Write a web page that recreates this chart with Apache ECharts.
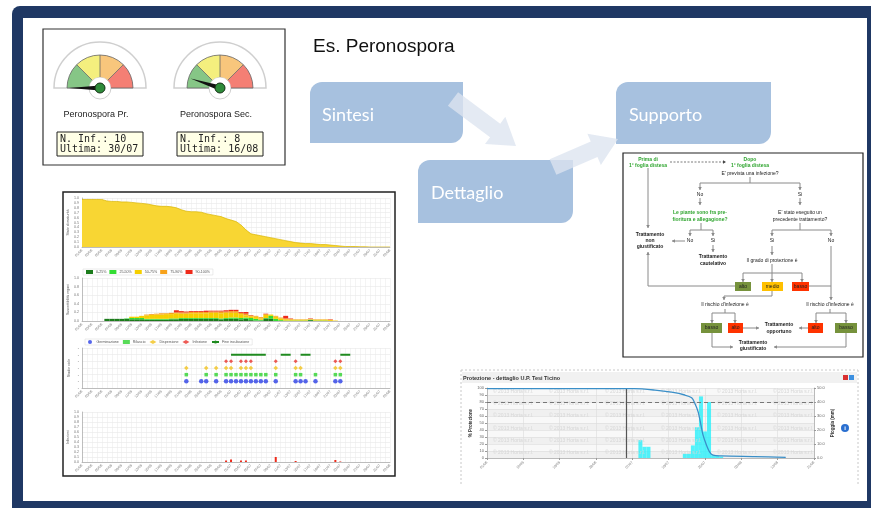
<!DOCTYPE html>
<html><head><meta charset="utf-8">
<script src="https://cdn.jsdelivr.net/npm/echarts@6/dist/echarts.min.js"></script>
<style>html,body{margin:0;padding:0;background:#fff}#c{width:871px;height:508px}</style>
</head><body><div id="c"></div>
<script>
// ================= DATA =================
const gaugeNames = ['Peronospora Pr.', 'Peronospora Sec.'];
const gaugeValues = [0, 10];
const gaugeInfections = [10, 8];
const gaugeLastDates = ['30/07', '16/08'];

const dayLabels = [
 '01/06','02/06','03/06','04/06','05/06','06/06','07/06','08/06','09/06','10/06',
 '11/06','12/06','13/06','14/06','15/06','16/06','17/06','18/06','19/06','20/06',
 '21/06','22/06','23/06','24/06','25/06','26/06','27/06','28/06','29/06','30/06',
 '01/07','02/07','03/07','04/07','05/07','06/07','07/07','08/07','09/07','10/07',
 '11/07','12/07','13/07','14/07','15/07','16/07','17/07','18/07','19/07','20/07',
 '21/07','22/07','23/07','24/07','25/07','26/07','27/07','28/07','29/07','30/07',
 '31/07','01/08','02/08'];

const maturity = [
 .97,.97,.97,.97,.97,.94,.93,.93,.92,.92,
 .91,.90,.89,.88,.86,.84,.83,.83,.82,.80,
 .76,.73,.72,.72,.71,.68,.66,.64,.62,.58,
 .55,.52,.45,.35,.27,.25,.23,.21,.19,.17,
 .15,.13,.11,.09,.08,.07,.07,.06,.05,.05,
 .04,.03,.02,.01,.01,.01,.005,.005,0,0,
 0,0,0];

const stackNames = ['0-25%','25-50%','50-75%','75-90%','90-100%'];
const stack0_25 = [
 0,0,0,0,0,.05,.05,.05,.05,.05,
 .04,.04,.04,.03,.03,.03,.03,.03,.04,.04,
 .05,.05,.05,.05,.05,.05,.05,.05,.04,.05,
 .05,.05,.04,.05,.02,.01,.01,.06,.05,0,
 0,0,0,0,0,0,.02,0,0,0,
 0,0,0,0,0,0,0,0,0,0,
 0,0,0];
const stack25_50 = [
 0,0,0,0,0,0,0,0,0,.01,
 .03,.03,.03,.02,.02,.02,.02,.02,.02,.02,
 .02,.02,.02,.02,.02,.02,.02,.02,.02,.02,
 .03,.03,.03,.03,.05,.04,.02,.01,.07,.05,
 .02,.01,.01,.01,.01,.01,.01,.01,.01,.01,
 0,0,0,0,0,0,0,0,0,0,
 0,0,0];
const stack50_75 = [
 0,0,0,0,0,0,0,0,0,0,
 .03,.03,.05,.08,.09,.10,.10,.11,.10,.12,
 .10,.10,.11,.11,.11,.11,.12,.12,.12,.12,
 .11,.11,.09,.05,.04,.05,.03,.07,.03,.05,
 .04,.03,.02,.02,.02,.02,.01,.02,.02,.02,
 .02,.01,0,0,0,0,0,0,0,0,
 0,0,0];
const stack75_90 = [
 0,0,0,0,0,0,0,0,0,0,
 0,0,0,.02,.02,.02,.03,.02,.03,.02,
 .03,.03,.03,.03,.03,.03,.03,.03,.04,.03,
 .04,.04,.03,.04,.02,.02,.03,.02,0,.02,
 .02,.02,.02,.01,.01,.01,.01,.01,.01,.01,
 .01,0,0,0,0,0,0,0,0,0,
 0,0,0];
const stack90_100 = [
 0,0,0,0,0,0,0,0,0,0,
 0,0,0,0,0,0,0,0,0,.05,
 .03,.02,.02,.02,.02,.03,.02,.02,.02,.03,
 .03,.03,.02,.04,.01,0,0,.01,0,0,
 0,.06,.01,0,0,0,.01,0,0,0,
 .01,0,0,0,0,0,0,0,0,0,
 0,0,0];

const phaseNames = ['Germinazione','Rilascio','Dispersione','Infezione','Fine incubazione'];
const germinazioneIdx = [21,24,25,27,29,30,31,32,33,34,35,36,37,39,43,44,45,47,51,52];
const rilascioIdx = [21,25,27,29,30,31,32,33,34,35,36,37,39,43,44,47,51,52];
const dispersioneIdx = [21,25,27,29,30,32,33,34,39,43,44,51,52];
const infezioneIdx = [29,30,32,33,34,39,43,51,52];
const fineIncubazioneRanges = [[30,33],[34,37],[40,42],[44,46],[52,54]];
const infezioniIdx = [29,30,32,33,39,43,51,52];
const infezioniVal = [0.03,0.05,0.03,0.03,0.10,0.02,0.04,0.01];

const protDays   = [0,36.5,41.6,45.7,49,50.7,51.5,52.3,53,53.5,54.4,55.2,56,58,66.3,74];
const protValues = [99,99,97,94,90,86,78,66,47,33,18,8,4,3,2,1];
const rainDays   = [38,39,40,49,50,51,52,53,54,55,56,57,58];
const rainValues = [12.7,8,8,3,3,9,22,44,19,40,2,1.5,1];
const protTickLabels = ['01/06','10/06','19/06','28/06','07/07','16/07','25/07','03/08','12/08','21/08'];
const protThreshold = 80;
const todayDay = 34.5;

// ================= HELPERS =================
const FONT = '"Liberation Sans", Arial, sans-serif';
const G = [];
function zz(o, d){ return (o && o.z != null) ? o.z : d; }
function T(x, y, s, o) {
  o = o || {};
  G.push({type:'text', x:x, y:y, z:zz(o,30), style:{text:s, fill:o.color||'#222',
    font:(o.bold?'bold ':'')+(o.size||5)+'px '+(o.family||FONT),
    align:o.align||'center', textAlign:o.align||'center',
    verticalAlign:'middle', textVerticalAlign:'middle', lineHeight:o.lh||6}});
}
function R(x, y, w, h, o) {
  o = o || {};
  G.push({type:'rect', z:zz(o,20), shape:{x:x,y:y,width:w,height:h,r:o.r||0},
    style:{fill:o.fill||'none', stroke:o.stroke||null, lineWidth:o.lw||1, lineDash:o.dash||null, opacity:o.op==null?1:o.op}});
}
function L(points, o) {
  o = o || {};
  const col = o.color || '#8a8a8a';
  G.push({type:'polyline', z:zz(o,25), shape:{points:points}, style:{stroke:col, lineWidth:o.lw||1, fill:null, lineDash:o.dash||null}});
  if (o.arrow !== false) {
    const n = points.length, p2 = points[n-1], p1 = points[n-2];
    let dx = p2[0]-p1[0], dy = p2[1]-p1[1]; const len = Math.hypot(dx,dy)||1; dx/=len; dy/=len;
    const hl = 3, hw = 1.8;
    G.push({type:'polygon', z:zz(o,25), shape:{points:[[p2[0],p2[1]],[p2[0]-dx*hl-dy*hw,p2[1]-dy*hl+dx*hw],[p2[0]-dx*hl+dy*hw,p2[1]-dy*hl-dx*hw]]}, style:{fill:col}});
  }
}
function bigArrow(x1,y1,x2,y2,sw,hw,hl) {
  let dx=x2-x1, dy=y2-y1; const len=Math.hypot(dx,dy); dx/=len; dy/=len;
  const nx=-dy, ny=dx; const bx=x2-dx*hl, by=y2-dy*hl;
  G.push({type:'polygon', z:12, shape:{points:[
    [x1+nx*sw/2,y1+ny*sw/2],[bx+nx*sw/2,by+ny*sw/2],[bx+nx*hw/2,by+ny*hw/2],[x2,y2],
    [bx-nx*hw/2,by-ny*hw/2],[bx-nx*sw/2,by-ny*sw/2],[x1-nx*sw/2,y1-ny*sw/2]]},
    style:{fill:'#dce4ef', opacity:0.78}});
}

// ---- frame ----
R(12, 6, 880, 510, {fill:'#1f3864', r:8, z:-2});
R(23, 18, 844, 483, {fill:'#ffffff', z:-1});

// ---- gauge panel ----
R(43, 29, 242, 136, {fill:'#fff', stroke:'#333', lw:1.2, z:0});
const gaugeCx = [100, 220], gaugeCy = 88;
gaugeCx.forEach(function(cx, i){
  G.push({type:'sector', z:1, shape:{cx:cx, cy:gaugeCy, r:46, r0:0, startAngle:Math.PI, endAngle:2*Math.PI},
    style:{fill:'#fff', stroke:'#cfcfcf', lineWidth:1.5}});
  G.push({type:'circle', z:2, shape:{cx:cx, cy:gaugeCy, r:11}, style:{fill:'#fff', stroke:'#d0d0d0', lineWidth:1}});
  G.push({type:'arc', z:8, shape:{cx:cx, cy:gaugeCy, r:33, startAngle:Math.PI, endAngle:2*Math.PI}, style:{stroke:'#666', lineWidth:0.8, fill:null}});
  T(cx-4, 115, gaugeNames[i], {size:9, color:'#222'});
  R(cx-43, 132, 86, 24, {fill:'#ffffe6', stroke:'#222', lw:1, z:3});
  T(cx-40, 139, 'N. Inf.: ' + gaugeInfections[i], {size:10, align:'left', family:'"DejaVu Sans Mono", monospace', lh:10});
  T(cx-40, 149, 'Ultima: ' + gaugeLastDates[i], {size:10, align:'left', family:'"DejaVu Sans Mono", monospace', lh:10});
});

// ---- title & process boxes ----
T(313, 47, 'Es. Peronospora', {size:19, align:'left', color:'#111', z:40});
R(310, 82, 153, 61, {fill:'#a7c1df', r:[12,0,12,0], z:10});
R(418, 160, 155, 63, {fill:'#a7c1df', r:[12,0,12,0], z:10});
R(616, 82, 155, 62, {fill:'#a7c1df', r:[12,0,12,0], z:10});
bigArrow(453, 99, 516, 146, 17, 34, 26);
bigArrow(553, 167, 618, 139, 17, 34, 26);
T(322, 115, 'Sintesi', {size:18, align:'left', color:'#fff', family:'Lato, "Open Sans", sans-serif', z:40});
T(431, 193, 'Dettaglio', {size:18, align:'left', color:'#fff', family:'Lato, "Open Sans", sans-serif', z:40});
T(629, 115, 'Supporto', {size:18, align:'left', color:'#fff', family:'Lato, "Open Sans", sans-serif', z:40});

// ---- flowchart ----
R(623, 153, 240, 204, {fill:'#fff', stroke:'#222', lw:1.2, z:15});
const GR = '#2fa52f';
T(648, 163, 'Prima di\n1\u00b0 foglia distesa', {bold:true, color:GR});
L([[670,162],[726,162]], {dash:[2,1.5], color:'#444', lw:0.7});
T(750, 163, 'Dopo\n1\u00b0 foglia distesa', {bold:true, color:GR});
T(750, 174, "E' prevista una infezione?");
L([[750,177],[750,183]], {arrow:false});
L([[700,183],[800,183]], {arrow:false});
L([[700,183],[700,190]]); L([[800,183],[800,190]]);
T(700, 195, 'No'); T(800, 195, 'Si');
L([[700,198],[700,205]]); L([[800,198],[800,205]]);
T(700, 216, 'Le piante sono fra pre-\nfioritura e allegagione?', {bold:true, color:GR, lh:7});
T(800, 216, "E' stato eseguito un\nprecedente trattamento?", {lh:7});
L([[701,223],[701,230]], {arrow:false});
L([[690,230],[713,230]], {arrow:false});
L([[690,230],[690,236]]); L([[713,230],[713,236]]);
T(690, 241, 'No'); T(713, 241, 'Si');
L([[685,241],[672,241]]);
L([[713,245],[713,252]]);
T(713, 260, 'Trattamento\ncautelativo', {bold:true, lh:7});
L([[648,168],[648,228]]);
T(650, 241, 'Trattamento\nnon\ngiustificato', {bold:true, lh:6});
L([[800,223],[800,230]], {arrow:false});
L([[772,230],[831,230]], {arrow:false});
L([[772,230],[772,236]]); L([[831,230],[831,236]]);
T(772, 241, 'Si'); T(831, 241, 'No');
L([[772,246],[772,255]]);
T(772, 261, 'Il grado di protezione \u00e8');
L([[772,264],[772,273]], {arrow:false});
L([[743,273],[802,273]], {arrow:false});
L([[743,273],[743,282]]); L([[772,273],[772,282]]); L([[802,273],[802,282]]);
R(735, 282, 16, 9, {fill:'#76923c', z:22}); T(743, 286.5, 'alto', {z:32});
R(762, 282, 21, 9, {fill:'#ffc000', z:22}); T(772.5, 286.5, 'medio', {z:32});
R(792, 282, 17, 9, {fill:'#ff3300', z:22}); T(800.5, 286.5, 'basso', {z:32});
L([[735,286],[648,286],[648,252]]);
L([[809,286],[831,286]], {arrow:false});
L([[831,246],[831,300]]);
L([[772,291],[772,296],[724,296],[724,300]]);
T(725, 305, "Il rischio d'infezione \u00e8");
T(830, 305, "Il rischio d'infezione \u00e8");
L([[725,309],[725,313]], {arrow:false});
L([[712,313],[735,313]], {arrow:false});
L([[712,313],[712,323]]); L([[735,313],[735,323]]);
L([[830,309],[830,313]], {arrow:false});
L([[816,313],[846,313]], {arrow:false});
L([[816,313],[816,323]]); L([[846,313],[846,323]]);
R(701, 323, 21, 10, {fill:'#76923c', z:22}); T(711.5, 328, 'basso', {z:32});
R(728, 323, 15, 10, {fill:'#ff3300', z:22}); T(735.5, 328, 'alto', {z:32});
R(808, 323, 15, 10, {fill:'#ff3300', z:22}); T(815.5, 328, 'alto', {z:32});
R(835, 323, 22, 10, {fill:'#76923c', z:22}); T(846, 328, 'basso', {z:32});
T(779, 328, 'Trattamento\nopportuno', {bold:true, lh:7});
L([[743,328],[759,328]]);
L([[808,328],[799,328]]);
T(753, 346, 'Trattamento\ngiustificato', {bold:true, lh:6});
L([[712,333],[712,347],[733,347]]);
L([[846,333],[846,347],[774,347]]);

// ---- left detail panel ----
R(63, 192, 332, 284, {fill:'#fff', stroke:'#222', lw:1.5, z:0});

// ---- right detail panel ----
L([[461,370],[858,370]], {arrow:false, dash:[2,2], color:'#c8c8c8', z:2});
L([[461,370],[461,484]], {arrow:false, dash:[2,2], color:'#c8c8c8', z:2});
L([[858,370],[858,484]], {arrow:false, dash:[2,2], color:'#c8c8c8', z:2});
R(462, 372, 395, 11, {fill:'#f1f1f1', z:2});
T(463, 378, 'Protezione - dettaglio U.P. Tesi Ticino', {size:5.5, bold:true, align:'left', color:'#333'});
R(843, 375, 5, 5, {fill:'#d93030', z:5});
R(849, 375, 5, 5, {fill:'#3b8fe0', z:5});
G.push({type:'circle', z:5, shape:{cx:845, cy:428, r:4}, style:{fill:'#2a6fd0'}});
T(845, 428, 'i', {size:6, bold:true, color:'#fff'});
[392,404,416,429,441,453].forEach(function(y){
  [493,549,605,661,717,773].forEach(function(x){
    T(x, y, '\u00a9 2013 Horta s.r.l.', {size:5, color:'#d6d6d6', align:'left', z:3});
  });
});

// ================= CHART =================
const chart = echarts.init(document.getElementById('c'), null, {renderer:'canvas'});
const tiny = 3.6;
function leftX(i) {
  return {type:'category', gridIndex:i, data:dayLabels, boundaryGap:false,
    axisLine:{lineStyle:{color:'#999', width:0.6}}, axisTick:{show:false},
    axisLabel:{rotate:45, fontSize:tiny, color:'#777', interval:1, margin:3, fontFamily:FONT},
    splitLine:{show:true, interval:0, lineStyle:{color:'#e8e8e8', width:0.5}}};
}
function leftY(i, max, step, name, showLabels) {
  return {type:'value', gridIndex:i, min:0, max:max, interval:step,
    name:name, nameLocation:'middle', nameGap:11, nameRotate:90,
    nameTextStyle:{fontSize:tiny, color:'#555', fontFamily:FONT},
    axisLine:{show:true, lineStyle:{color:'#999', width:0.6}}, axisTick:{show:false},
    axisLabel:{show:true, fontSize:tiny, color:'#777', margin:3, fontFamily:FONT,
      formatter: showLabels ? function(v){return v.toFixed(1);} : function(){return '-';}},
    splitLine:{show:true, lineStyle:{color:'#e2e2e2', width:0.5}}};
}
const stackColors = ['#1c7c1c','#33dd33','#f5cf00','#f7a21b','#ee2a1a'];
const stackData = [stack0_25, stack25_50, stack50_75, stack75_90, stack90_100];

const series = [];
series.push({type:'line', xAxisIndex:0, yAxisIndex:0, data:maturity, symbol:'none',
  lineStyle:{color:'#d9b400', width:0.7}, areaStyle:{color:'#f8d633', opacity:1}});
stackData.forEach(function(d, k){
  series.push({type:'bar', name:stackNames[k], xAxisIndex:1, yAxisIndex:1, stack:'s', data:d,
    barCategoryGap:'0%', itemStyle:{color:stackColors[k]}});
});
function lev(arr, l){ return arr.map(function(i){ return [i, l]; }); }
series.push({type:'scatter', name:phaseNames[0], xAxisIndex:2, yAxisIndex:2, symbol:'circle', symbolSize:4.5,
  itemStyle:{color:'#2b3fe6'}, data:lev(germinazioneIdx,1)});
series.push({type:'scatter', name:phaseNames[1], xAxisIndex:2, yAxisIndex:2, symbol:'rect', symbolSize:3.5,
  itemStyle:{color:'#2ed22e'}, data:lev(rilascioIdx,2)});
series.push({type:'scatter', name:phaseNames[2], xAxisIndex:2, yAxisIndex:2, symbol:'diamond', symbolSize:4.5,
  itemStyle:{color:'#f1c21b'}, data:lev(dispersioneIdx,3)});
series.push({type:'scatter', name:phaseNames[3], xAxisIndex:2, yAxisIndex:2, symbol:'diamond', symbolSize:4,
  itemStyle:{color:'#e8322a'}, data:lev(infezioneIdx,4)});
series.push({type:'line', name:phaseNames[4], xAxisIndex:2, yAxisIndex:2, symbol:'none', connectNulls:false,
  lineStyle:{color:'#1f8a1f', width:2}, itemStyle:{color:'#1f8a1f'},
  data:dayLabels.map(function(d, i){
    return fineIncubazioneRanges.some(function(r){ return i>=r[0] && i<=r[1]; }) ? 5 : null; })});
series.push({type:'bar', name:'Infezioni', xAxisIndex:3, yAxisIndex:3, barWidth:2,
  itemStyle:{color:'#ee2a1a'}, data:infezioniIdx.map(function(i, k){ return [i, infezioniVal[k]]; })});
series.push({type:'bar', name:'Pioggia', xAxisIndex:4, yAxisIndex:5, barWidth:4,
  itemStyle:{color:'rgba(40,240,250,0.8)'}, data:rainDays.map(function(d,k){ return [d, rainValues[k]]; })});
series.push({type:'line', name:'Protezione', xAxisIndex:4, yAxisIndex:4, symbol:'none', smooth:0.3, z:5,
  lineStyle:{color:'#3a8fc8', width:1.3},
  data:protDays.map(function(d,k){ return [d, protValues[k]]; }),
  markLine:{silent:true, symbol:'none', label:{show:false},
    data:[{yAxis:protThreshold, lineStyle:{color:'#777', type:[4,3], width:1}},
          {xAxis:todayDay, lineStyle:{color:'#555', type:'solid', width:1.2}}]}});
gaugeCx.forEach(function(cx, i){
  series.push({type:'gauge', center:[cx, gaugeCy], radius:33, startAngle:180, endAngle:0, min:0, max:100, splitNumber:4, z:5,
    axisLine:{lineStyle:{width:22, color:[[0.25,'#86c686'],[0.5,'#f4ef7e'],[0.75,'#f8c67c'],[1,'#f47f74']]}},
    splitLine:{length:22, distance:-22, lineStyle:{color:'#666', width:0.8}},
    axisTick:{show:false}, axisLabel:{show:false},
    pointer:{length:31, width:2.5, itemStyle:{color:'#111'}},
    anchor:{show:true, size:10, showAbove:true, itemStyle:{color:'#2e8b3a', borderColor:'#163016', borderWidth:1}},
    title:{show:false}, detail:{show:false}, data:[{value:gaugeValues[i]}]});
});

const option = {
  animation:false,
  backgroundColor:'#fff',
  textStyle:{fontFamily:FONT},
  graphic:{elements:G},
  legend:[
    {data:stackNames, left:83, top:269, itemWidth:7, itemHeight:4, itemGap:3, padding:[1,3],
      borderColor:'#ddd', borderWidth:0.6, textStyle:{fontSize:tiny, color:'#555', padding:[0,0,0,-2]}, icon:'rect'},
    {data:phaseNames, left:85, top:339, itemWidth:7, itemHeight:4, itemGap:4, padding:[1,3],
      borderColor:'#ddd', borderWidth:0.6, textStyle:{fontSize:tiny, color:'#555', padding:[0,0,0,-2]}}
  ],
  grid:[
    {left:82, top:198, width:308, height:49, show:true, backgroundColor:'#fff', borderWidth:0},
    {left:82, top:278, width:308, height:43, show:true, backgroundColor:'#fff', borderWidth:0},
    {left:82, top:348, width:308, height:40, show:true, backgroundColor:'#fff', borderWidth:0},
    {left:82, top:412, width:308, height:50, show:true, backgroundColor:'#fff', borderWidth:0},
    {left:487, top:388, width:327, height:70}
  ],
  xAxis:[leftX(0), leftX(1), leftX(2), leftX(3),
    {type:'value', gridIndex:4, min:0, max:81, interval:9,
      axisLine:{lineStyle:{color:'#999', width:0.6}}, axisTick:{show:true, length:2},
      axisLabel:{rotate:45, fontSize:tiny, color:'#777', margin:4,
        formatter:function(v){ return protTickLabels[Math.round(v/9)] || ''; }},
      splitLine:{show:true, lineStyle:{color:'#dcdcdc', width:0.6}}}],
  yAxis:[leftY(0,1,0.1,'Stato di maturit\u00e0',true), leftY(1,1,0.2,'Suscettibilit\u00e0 organi',true),
    leftY(2,6,1,'Stadio ciclo',false), leftY(3,1,0.1,'Infezioni',true),
    {type:'value', gridIndex:4, min:0, max:100, interval:10, position:'left',
      name:'% Protezione', nameLocation:'middle', nameGap:14, nameRotate:90,
      nameTextStyle:{fontSize:4.5, color:'#333', fontWeight:'bold'},
      axisLine:{show:true, lineStyle:{color:'#999', width:0.6}}, axisTick:{show:true, length:2},
      axisLabel:{fontSize:4, color:'#666', margin:3},
      splitLine:{show:true, lineStyle:{color:'#dcdcdc', width:0.6}},
      splitArea:{show:true, areaStyle:{color:['#f0f0f0','#f8f8f8']}}},
    {type:'value', gridIndex:4, min:0, max:50, interval:10, position:'right',
      name:'Pioggia (mm)', nameLocation:'middle', nameGap:16, nameRotate:90,
      nameTextStyle:{fontSize:4.5, color:'#333', fontWeight:'bold'},
      axisLine:{show:true, lineStyle:{color:'#999', width:0.6}}, axisTick:{show:true, length:2},
      axisLabel:{fontSize:4, color:'#666', margin:3, formatter:function(v){ return v.toFixed(1); }},
      splitLine:{show:false}}],
  series:series
};
chart.setOption(option);
</script></body></html>
